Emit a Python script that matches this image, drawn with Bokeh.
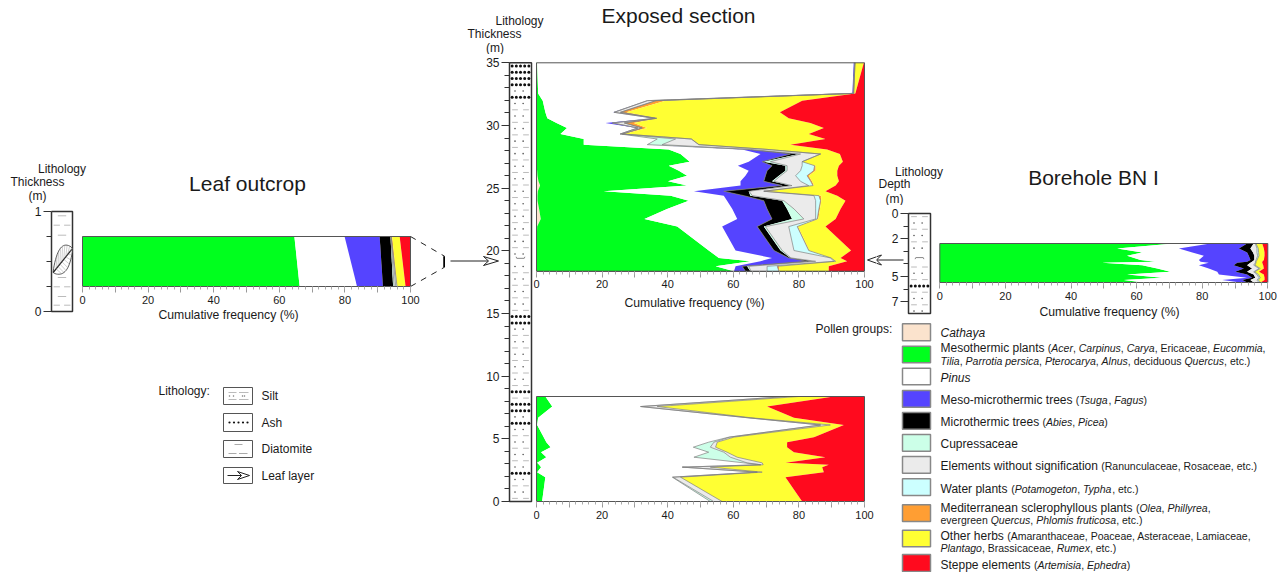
import numpy as np
from bokeh.plotting import figure
from bokeh.layouts import row, column
from bokeh.models import FixedTicker, LinearAxis, ColumnDataSource, Range1d
from bokeh.core.properties import value
from bokeh.embed import file_html
from bokeh.resources import INLINE

FONT = "Liberation Sans"
GROUP_NAMES = ["Cathaya", "Mesothermic", "Pinus", "Meso-microthermic", "Microthermic", "Cupressaceae",
               "Elements", "Water", "Mediterranean", "Herbs", "Steppe"]
GROUP_COLORS = ["#FBE3CD", "#00FF1E", "#FFFFFF", "#5544FF", "#000000", "#CCFFE8",
                "#EBEBEB", "#CCFFFF", "#FF9E33", "#FFFF33", "#FF0A1E"]

# Exposed section, upper part: cumulative percentages read at each level
up_depth = [35.0, 32.56, 31.98, 31.05, 30.57, 30.2, 29.8, 29.32, 28.92, 28.47, 28.09, 27.72, 27.11, 26.79, 26.39,
            25.99, 25.54, 25.2, 24.75, 24.4, 24.0, 23.34, 22.54, 21.93, 20.02, 19.43, 19.16, 18.76, 18.37]
up_cath = [0]*14 + [.2, .3, .6, 1.1, .4, .3, .3, .8, 1.3, .2, 0, 0, 0, 0, 0]
up_g = [.2, .5, 1.9, 2.7, 3.3, 6.1, 9.3, 7.3, 14.4, 14.4, 40.3, 43.9, 46.7, 40.3, 43.4, 45.9, 40.1, 45.9, 20.5, 40.9,
        46.4, 39.8, 32.9, 42.9, 52.5, 55.6, 65.2, 54.6, 60.2]
up_w = [96.7, 96.3, 33.7, 23.4, 36, 21, 30.7, 25.4, 36.8, 33.7, 62.7, 68.3, 64.7, 61.4, 64.7, 63.7, 62.2, 62.2, 48, 57.1,
        58.1, 59.7, 61.2, 56.6, 60.7, 71.8, 68.3, 60.7, 60.2]
up_bl = [97, 96.5, 33.8, 23.6, 36.1, 23.1, 30.9, 25.5, 36.8, 33.8, 64.2, 77.4, 68.8, 71.8, 70.3, 69.8, 69.3, 74.9, 57.1, 63.2,
         69.3, 70.3, 71.8, 67.3, 72.4, 76.9, 82.5, 62.7, 63.7]
up_bk = [97, 96.5, 33.8, 23.6, 36.1, 23.1, 30.9, 25.5, 36.8, 33.8, 64.7, 80, 69.3, 75.9, 75.9, 73.9, 71.8, 77.4, 64.7, 65.2,
         74.9, 76.4, 77.9, 69.3, 74.4, 77.4, 84.6, 64.2, 65.2]
up_cu = [97, 96.6, 33.8, 23.7, 36.1, 23.2, 30.9, 25.6, 42.4, 38.3, 65.2, 80.5, 71.3, 76.4, 76.4, 74.4, 72.4, 77.9, 64.8, 65.8,
         75.4, 78.5, 81.5, 69.8, 74.9, 77.6, 85.1, 64.7, 65.4]
up_el = [97.1, 96.7, 36.4, 25.6, 36.6, 26.8, 32.2, 26.2, 47.2, 49.5, 70.3, 86.6, 81, 81, 80.5, 79, 80.5, 83, 69.3, 84.6,
         85.1, 85.1, 85.1, 76.9, 78.5, 89.6, 90.7, 70.3, 70.3]
up_wa = [97.1, 96.7, 36.4, 25.6, 36.6, 26.8, 32.2, 26.2, 47.2, 49.5, 70.3, 86.6, 81, 84.8, 84.5, 82.5, 83.6, 84.3, 69.3, 86.1,
         86.6, 86.1, 85.6, 79.5, 83, 89.8, 91.2, 73.4, 73.9]
up_or = [97.1, 96.7, 39.3, 27.4, 36.8, 29.7, 33.7, 26.6, 47.3, 49.6, 70.3, 86.6, 81, 85.1, 85.1, 83, 84, 84.6, 70.3, 86.8,
         86.8, 86.4, 85.9, 79.7, 83.2, 89.8, 91.2, 73.9, 74.1]
up_he = [99.8, 97.2, 81, 74.2, 76.9, 83.5, 87.6, 83, 88.1, 77.4, 88.6, 92.5, 93.4, 92.2, 91.7, 91.7, 92.2, 91.2, 88.1, 91.7,
         94.2, 92.7, 91.2, 88.1, 95.9, 92.7, 94.7, 89.1, 89.1]

# Exposed section, lower part
lo_depth = [8.37, 7.57, 6.68, 6.1, 5.13, 4.73, 4.33, 3.93, 3.53, 3.08, 2.93, 2.74, 2.34, 1.94, 0]
lo_g = [2.7, 4.8, .5, .2, 2.2, 3, 4.3, 1.4, 3, .2, .8, 1.4, .2, 2.7, 1.7]
lo_w = [76.4, 31.7, 64.2, 86.6, 58.6, 52.5, 47.8, 52.5, 48, 63.2, 68.3, 44.4, 67.3, 41.4, 53]
lo_cu = [76.4, 31.8, 64.2, 86.6, 58.9, 54.1, 53, 57.1, 59.1, 64.2, 68.4, 44.5, 67.3, 41.6, 54]
lo_el = [80, 36.8, 65.2, 89.6, 60.2, 55.1, 54.6, 58.1, 61.2, 68.8, 69.1, 53, 68.8, 43.9, 56.6]
lo_he = [90.7, 70.3, 78.5, 93.7, 84.6, 76.4, 76.4, 78.5, 88.1, 75.9, 89.1, 87.1, 87.6, 75.9, 81]

# Leaf outcrop (two levels)
lf_height = [.75, .25]
lf_g = [64.6, 66.2]
lf_w = [79.9, 83.7]
lf_bl = [90.6, 91.6]
lf_bk = [93.9, 94.7]
lf_cu = [94, 95]
lf_el = [94.1, 95.5]
lf_wa = [94.1, 95.9]
lf_or = [94.4, 96]
lf_he = [96.7, 98.5]

# Borehole BN I
bh_depth = [2.38, 2.78, 3.1, 3.36, 3.7, 3.84, 3.92, 4.1, 4.37, 4.63, 4.84, 5.1, 5.29, 5.48]
bh_g = [71.4, 54.1, 61.7, 57.1, 61.2, 65.8, 49.5, 61.7, 66.3, 70.3, 57.1, 67.8, 56.1, 62.2]
bh_w = [82.5, 72.9, 77, 80.5, 79, 79.5, 82, 79, 82, 84.6, 85.1, 93.7, 86.1, 91.7]
bh_bl = [93.7, 91.2, 93.7, 94.2, 94.7, 93.7, 90.7, 89.6, 92.7, 90.1, 93.7, 95.2, 92.2, 93.7]
bh_bk = [95.7, 94.7, 95.5, 95.9, 95.9, 95.2, 94.7, 93.7, 95.2, 93.7, 95.7, 96.2, 94.7, 95.7]
bh_el = [96.2, 96.7, 96.7, 96.9, 96.4, 96.2, 96.2, 95.7, 97.3, 95.7, 96.7, 97.3, 96.7, 97.3]
bh_wa = [96.4, 97.1, 97.2, 97.3, 96.7, 96.4, 96.4, 96.1, 97.7, 96, 97.1, 97.7, 97.1, 97.8]
bh_he = [98.3, 98.8, 99, 99, 98.8, 98.3, 98.3, 98.6, 98.8, 97.3, 98.8, 99, 99, 97.8]

# Lithology logs
ash_exposed = [34.8, 34.2, 33.7, 33.2, 32.4, 14.67, 14.2, 8.77, 7.97, 7.18, 6.38, 2.15]
diatomite_exposed = [19.4]
ash_borehole = [5.6]
diatomite_borehole = [3.5]

LEGEND_GROUPS = [
    ("*Cathaya*", None), ("Mesothermic plants |(*Acer*, *Carpinus*, *Carya*, Ericaceae, *Eucommia*,",
     "|*Tilia*, *Parrotia persica*, *Pterocarya*, *Alnus*, deciduous *Quercus*, etc.)"),
    ("*Pinus*", None), ("Meso-microthermic trees |(*Tsuga*, *Fagus*)", None),
    ("Microthermic trees |(*Abies*, *Picea*)", None), ("Cupressaceae", None),
    ("Elements without signification |(Ranunculaceae, Rosaceae, etc.)", None),
    ("Water plants |(*Potamogeton*, *Typha*, etc.)", None),
    ("Mediterranean sclerophyllous plants |(*Olea*, *Phillyrea*,", "|evergreen *Quercus*, *Phlomis fruticosa*, etc.)"),
    ("Other herbs |(Amaranthaceae, Poaceae, Asteraceae, Lamiaceae,", "|*Plantago*, Brassicaceae, *Rumex*, etc.)"),
    ("Steppe elements |(*Artemisia*, *Ephedra*)", None)]
LITHO_NAMES = ["Silt", "Ash", "Diatomite", "Leaf layer"]

WIDTH = {}
for chars, w in [("ijl'", .222), ("ftI ./,:;!", .278), ("r()-", .333), ("cksvxyzJ", .5), ("FTZ", .611),
                 ("ABEKPSVXY", .667), ("CDHNRUw", .722), ("GOQ", .778), ("mM", .833), ("W", .944), ("%", .889)]:
    for ch in chars:
        WIDTH[ch] = w


def text_width(s, size):
    return sum(WIDTH.get(c, .556) for c in s) * size


def base(**kw):
    p = figure(toolbar_location=None, tools="", output_backend="svg", background_fill_color="white",
               border_fill_color="white", frame_align=False, min_border=0, x_axis_location=None,
               y_axis_location=None, **kw)
    p.grid.visible = False
    p.outline_line_color = None
    return p


def page_fig(px, py, w, h):
    return base(width=w, height=h, x_range=(px, px + w), y_range=(py + h, py))


def txt(p, x, y, s, size=12, italic=False, align="left"):
    p.text(x=[x], y=[y], text=[s], text_font=value(FONT), text_font_size=f"{size}px",
           text_font_style="italic" if italic else "normal", text_baseline="middle", text_align=align,
           text_color="#1a1a1a")


def inline(p, x, y, markup):
    parts = markup.split("|")
    for i, part in enumerate(parts):
        size = 12 if i == 0 else 10.5
        for j, seg in enumerate(part.split("*")):
            if seg:
                if seg.strip():
                    txt(p, x + text_width(seg[:len(seg) - len(seg.lstrip())], size), y, seg.strip(), size, j % 2 == 1)
                x += text_width(seg, size)


def scaled_fig(rect, x0_px, x1_px, xv0, xv1, y0_px, y1_px, yv0, yv1):
    """Figure whose frame is the whole canvas; (x0_px,y0_px) -> (xv0,yv0), (x1_px,y1_px) -> (xv1,yv1)."""
    cx, cy, cw, ch = rect
    X = lambda px: xv0 + (px - x0_px) * (xv1 - xv0) / (x1_px - x0_px)
    Y = lambda py: yv0 + (py - y0_px) * (yv1 - yv0) / (y1_px - y0_px)
    p = base(width=cw, height=ch, x_range=Range1d(X(cx), X(cx + cw)), y_range=Range1d(Y(cy + ch), Y(cy)))
    return p, X, Y


def chart(rect, left_px, y0_px, y1_px, yv0, yv1, label_xy=None):
    p, X, Y = scaled_fig(rect, left_px, left_px + 328, 0, 100, y0_px, y1_px, yv0, yv1)
    ax = LinearAxis(fixed_location=yv1, bounds=(0, 100))
    ax.ticker = FixedTicker(ticks=list(range(0, 101, 10)), minor_ticks=list(range(0, 101, 2)))
    ax.major_label_overrides = {t: "" for t in range(10, 100, 20)}
    ax.major_label_text_font = FONT
    ax.major_label_text_font_size = "11px"
    ax.major_label_text_color = "#1a1a1a"
    ax.major_label_standoff = 3
    ax.major_tick_in = 0
    ax.major_tick_out = 6
    ax.minor_tick_in = 0
    ax.minor_tick_out = 3
    ax.major_tick_line_color = "#999999"
    ax.minor_tick_line_color = "#aaaaaa"
    ax.axis_line_color = "#555555"
    p.add_layout(ax, "below")
    if label_xy:
        txt(p, X(label_xy[0]), Y(label_xy[1]), "Cumulative frequency (%)", 12.2, align="center")
    return p, X, Y


def stack(p, depth, bounds, outlined=(3, 5, 6, 7)):
    """bounds: cumulative boundary lists, one per group except the last (up to 100)."""
    cum = np.maximum.accumulate(np.array(bounds + [[100.0] * len(depth)], dtype=float), axis=0)
    vals = np.diff(np.vstack([np.zeros(len(depth)), cum]), axis=0)
    data = {"depth": depth}
    for name, v in zip(GROUP_NAMES, vals):
        data[name] = v
    p.harea_stack(stackers=GROUP_NAMES, y="depth", color=GROUP_COLORS, source=ColumnDataSource(data))
    for i in outlined:
        p.line(cum[i], depth, line_color="#808080", line_width=0.7)
    lo, hi = depth[-1], depth[0]
    p.line([0, 100, 100, 0, 0], [lo, lo, hi, hi, lo], line_color="#555555", line_width=1)


def strip(rect, x0_px, x1_px, y0_px, y1_px, yv0, yv1, ticks, minor):
    p, X, Y = scaled_fig(rect, x0_px, x1_px, 0, 1, y0_px, y1_px, yv0, yv1)
    ax = LinearAxis(fixed_location=0, bounds=(min(yv0, yv1), max(yv0, yv1)))
    ax.ticker = FixedTicker(ticks=ticks, minor_ticks=minor)
    ax.major_label_text_font = FONT
    ax.major_label_text_font_size = "12px"
    ax.major_label_text_color = "#1a1a1a"
    ax.major_label_standoff = 2
    ax.major_tick_in = 0
    ax.major_tick_out = 8
    ax.minor_tick_in = 0
    ax.minor_tick_out = 5
    ax.major_tick_line_color = "#333333"
    ax.minor_tick_line_color = "#333333"
    ax.axis_line_color = None
    p.add_layout(ax, "left")
    p.line([0, 1, 1, 0, 0], [yv0, yv0, yv1, yv1, yv0], line_color="#333333", line_width=1.5)
    return p, X, Y


def texture(p, lo, hi, step, ash, diatomite):
    dash_y, dot_y, ash_y = [], [], []
    y, k = lo + step / 2, 0
    while y < hi:
        if min([abs(y - a) for a in ash] + [9e9]) < step * .55:
            ash_y.append(y)
        elif min([abs(y - a) for a in diatomite] + [9e9]) >= step * .55:
            (dash_y if k % 2 == 0 else dot_y).append(y)
        y += step
        k += 1
    for x0, x1 in ((.12, .38), (.62, .88)):
        p.segment(x0=[x0] * len(dash_y), x1=[x1] * len(dash_y), y0=dash_y, y1=dash_y, line_color="#bbbbbb", line_width=1)
    for x in (.25, .62):
        p.scatter(x=[x] * len(dot_y), y=dot_y, size=1.6, color="#555555", line_color=None)
    for x in (.12, .31, .5, .69, .88):
        p.scatter(x=[x] * len(ash_y), y=ash_y, size=3, color="#111111", line_color=None)
    for a in diatomite:
        p.line([.3, .33, .67, .7], [a + step * .25, a, a, a + step * .25], line_color="#888888", line_width=1)


# ---------- left column
h_left = page_fig(0, 0, 445, 203)
txt(h_left, 247, 183, "Leaf outcrop", 21, align="center")
txt(h_left, 61.5, 168, "Lithology", 12, align="center")
txt(h_left, 37, 181, "Thickness", 12, align="center")
txt(h_left, 37, 195, "(m)", 12, align="center")

a, aX, aY = strip((0, 203, 78, 137), 51, 72, 211, 311, 1, 0, [0, 1], [.25, .5, .75])
for yy in (.957, .763, .34, .15):
    a.segment(x0=[.3], x1=[.7], y0=[yy], y1=[yy], line_color="#bbbbbb", line_width=1)
for yy in (.863, .247, .063):
    a.segment(x0=[.1, .6], x1=[.4, .9], y0=[yy, yy], y1=[yy, yy], line_color="#bbbbbb", line_width=1)
t = np.linspace(0, 1, 21)
ax0, ay0, ax1, ay1 = .08, .39, 1.0, .63
half = .2 * np.sin(np.pi * t) ** .8
up_x, up_y = ax0 + (ax1 - ax0) * t - half * .55, ay0 + (ay1 - ay0) * t + half * .62
dn_x, dn_y = ax0 + (ax1 - ax0) * t + half * .75, ay0 + (ay1 - ay0) * t - half * .5
a.patch(list(up_x) + list(dn_x[::-1]), list(up_y) + list(dn_y[::-1]), fill_color="white", line_color="#333333", line_width=.8)
a.line([ax0, ax1], [ay0, ay1], line_color="#222222", line_width=1.2)
idx = list(range(3, 19, 2))
a.segment(x0=[ax0 + (ax1 - ax0) * t[i] for i in idx], y0=[ay0 + (ay1 - ay0) * t[i] for i in idx],
          x1=[up_x[min(i + 3, 20)] for i in idx], y1=[up_y[min(i + 3, 20)] for i in idx], line_color="#888888", line_width=.4)
a.segment(x0=[ax0 + (ax1 - ax0) * t[i] for i in idx], y0=[ay0 + (ay1 - ay0) * t[i] for i in idx],
          x1=[dn_x[min(i + 3, 20)] for i in idx], y1=[dn_y[min(i + 3, 20)] for i in idx], line_color="#888888", line_width=.4)

b, bX, bY = chart((78, 203, 367, 137), 82, 236, 286, .75, .25, label_xy=(228, 314.5))
stack(b, lf_height, [[0, 0], lf_g, lf_w, lf_bl, lf_bk, lf_cu, lf_el, lf_wa, lf_or, lf_he], outlined=(5, 6, 7))
b.line([100, bX(444)], [.75, bY(255.7)], line_color="#222222", line_dash="dashed", line_width=1)
b.line([100, bX(444)], [.25, bY(266.7)], line_color="#222222", line_dash="dashed", line_width=1)
b.line([bX(444), bX(444)], [bY(255.7), bY(266.7)], line_color="#000000", line_width=2.5)

lg_left = page_fig(0, 340, 445, 232)
txt(lg_left, 158, 390, "Lithology:", 12)
rows_y = [(387, 404), (413, 431), (440, 457), (467, 483)]
for (y0, y1), name in zip(rows_y, LITHO_NAMES):
    lg_left.quad(left=[223], right=[252], top=[y0], bottom=[y1], fill_color="white", line_color="#555555", line_width=1)
    txt(lg_left, 261, (y0 + y1) / 2, name, 12)
lg_left.segment(x0=[228, 238.5, 228, 238.5], x1=[236, 248, 236, 248], y0=[392, 392, 399, 399], y1=[392, 392, 399, 399],
                line_color="#bbbbbb", line_width=1)
lg_left.scatter(x=[229, 244, 233, 242], y=[395.5, 395.5, 395.5, 395.5], size=1.5, color="#777777", line_color=None)
lg_left.scatter(x=[229, 233.5, 238, 242.5, 247], y=[422] * 5, size=2.2, color="#111111", line_color=None)
lg_left.segment(x0=[234, 228, 238.5], x1=[242, 236, 247], y0=[444, 453, 453], y1=[444, 453, 453], line_color="#aaaaaa", line_width=1)
lg_left.line([227, 248], [475, 475], line_color="#222222", line_width=1)
lg_left.patch([249, 237, 241, 237], [475, 471, 475, 479], fill_color="white", line_color="#222222", line_width=1)

# ---------- centre
h_top = page_fig(445, 0, 832, 54)
txt(h_top, 678, 15, "Exposed section", 21, align="center")
txt(h_top, 519, 20, "Lithology", 12, align="center")
txt(h_top, 494, 33, "Thickness", 12, align="center")
txt(h_top, 494.5, 47, "(m)", 12, align="center")

c1, c1X, c1Y = strip((445, 54, 88, 518), 509, 531, 62.3, 501, 35, 0, list(range(0, 36, 5)), list(range(0, 36)))
texture(c1, 0, 35, .5, ash_exposed, diatomite_exposed)
c1.line([c1X(450), c1X(490)], [c1Y(260.5)] * 2, line_color="#222222", line_width=1)
c1.patch([c1X(v) for v in (498, 483, 488, 483)], [c1Y(v) for v in (260.5, 256, 260.5, 265)],
         fill_color="white", line_color="#222222", line_width=1)

c2, c2X, c2Y = chart((533, 54, 343, 268), 536, 62.3, 270.7, 35, 18.37, label_xy=(694, 302))
stack(c2, up_depth, [up_cath, up_g, up_w, up_bl, up_bk, up_cu, up_el, up_wa, up_or, up_he])
c2.line([c2X(875), c2X(880)], [c2Y(259.5)] * 2, line_color="#222222", line_width=1)
c2.patch([c2X(v) for v in (867, 881, 876, 881)], [c2Y(v) for v in (259.5, 254.5, 259.5, 264.5)],
         fill_color="white", line_color="#222222", line_width=1)

c3, c3X, c3Y = chart((533, 322, 360, 250), 536, 396, 501, 8.37, 0)
stack(c3, lo_depth, [[0] * 15, lo_g, lo_w, lo_w, lo_w, lo_cu, lo_el, lo_el, lo_el, lo_he], outlined=(4, 5, 6))
txt(c3, c3X(815), c3Y(328), "Pollen groups:", 12)

# ---------- right
h_right = page_fig(876, 54, 401, 151)
txt(h_right, 1093, 177, "Borehole BN I", 21, align="center")
txt(h_right, 918.5, 171, "Lithology", 12, align="center")
txt(h_right, 894, 183.5, "Depth", 12, align="center")
txt(h_right, 894, 198, "(m)", 12, align="center")

rl, rlX, rlY = strip((876, 205, 59, 117), 908, 930, 213, 313, 0, 7.94, [0, 2, 5, 7], list(range(0, 8)))
texture(rl, 0, 7.94, .5, ash_borehole, diatomite_borehole)
rl.patch([rlX(v) for v in (867, 881, 876, 881)], [rlY(v) for v in (259.5, 254.5, 259.5, 264.5)],
         fill_color="white", line_color="#222222", line_width=1)
rl.line([rlX(876), rlX(903)], [rlY(259.5)] * 2, line_color="#222222", line_width=1)

rc, rcX, rcY = chart((935, 205, 342, 117), 939.3, 243, 282, 2.38, 5.48, label_xy=(1109, 311))
stack(rc, bh_depth, [[0] * 14, bh_g, bh_w, bh_bl, bh_bk, bh_bk, bh_el, bh_wa, bh_wa, bh_he], outlined=(6, 7))

lg = page_fig(893, 322, 384, 250)
swatches = [(323.3, 340.3), (345.7, 362.3), (367.7, 384.3), (390, 406.7), (412, 428.7), (434, 450.7), (456, 472.7),
            (478.3, 495), (504.3, 521), (529.7, 546.3), (554, 571)]
line_y = [(332, None), (347.7, 360), (377, None), (399, None), (421, None), (443, None), (465, None), (488, None),
          (507, 519), (535, 547), (564, None)]
for (y0, y1), color, (m1, m2), (ly1, ly2) in zip(swatches, GROUP_COLORS, LEGEND_GROUPS, line_y):
    lg.quad(left=[902], right=[930], top=[y0], bottom=[y1], fill_color=color, line_color="#888888", line_width=1.5)
    inline(lg, 940, ly1, m1)
    if m2:
        inline(lg, 940, ly2, m2)

left_col = column(h_left, row(a, b, spacing=0), lg_left, spacing=0)
centre_right = column(row(c2, column(h_right, row(rl, rc, spacing=0), spacing=0), spacing=0),
                      row(c3, lg, spacing=0), spacing=0)
rest = column(h_top, row(c1, centre_right, spacing=0), spacing=0)
root = row(left_col, rest, spacing=0)

open("out.html", "w").write(file_html(root, INLINE))
